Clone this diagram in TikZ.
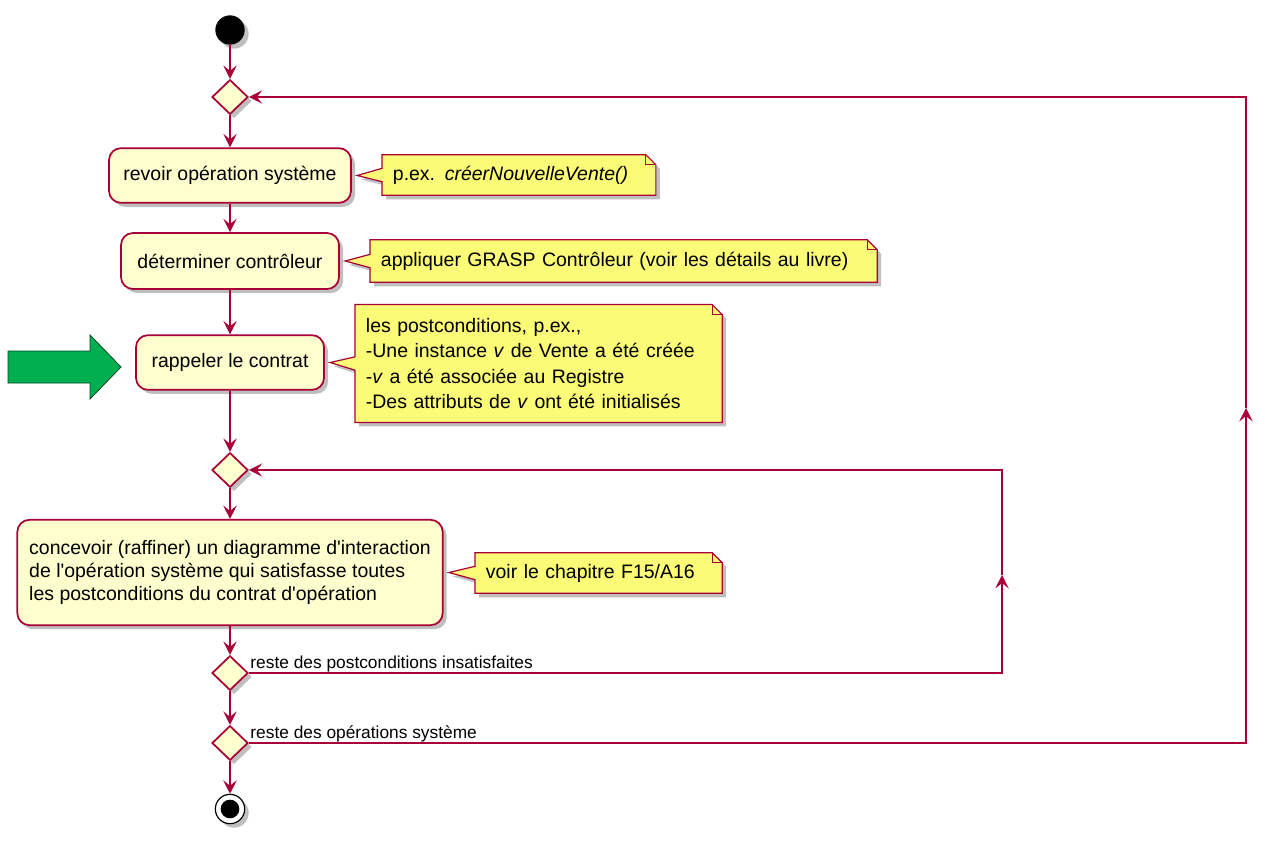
\documentclass[tikz,border=0pt]{standalone}
\usepackage{fontspec}
\setmainfont{Liberation Sans}
\usetikzlibrary{shapes.geometric,arrows.meta,shadows,backgrounds,positioning}

\definecolor{umlred}{HTML}{A80036}
\definecolor{actfill}{HTML}{FEFECE}
\definecolor{notefill}{HTML}{FBFB77}
\definecolor{bigarrowfill}{HTML}{00B050}

\tikzset{
	umlshadow/.style={drop shadow={shadow xshift=3pt,shadow yshift=-3pt,fill=black,opacity=0.25}},
	action/.style={rectangle,rounded corners=9pt,draw=umlred,fill=actfill,line width=1.3pt,umlshadow,
		font=\fontsize{14.6}{17.5}\selectfont,align=center,minimum height=41pt,inner sep=0pt},
	decision/.style={diamond,aspect=1,draw=umlred,fill=actfill,line width=1.3pt,umlshadow,
		minimum width=27pt,minimum height=26pt,inner sep=0pt},
	startdot/.style={circle,fill=black,minimum size=22pt,inner sep=0pt,umlshadow},
	stopring/.style={circle,draw=black,fill=white,line width=0.9pt,minimum size=22pt,inner sep=0pt,umlshadow},
	stopdot/.style={circle,fill=black,minimum size=14pt,inner sep=0pt},
	note/.style={rectangle,anchor=west,inner xsep=8pt,inner ysep=0pt,align=left,
		font=\fontsize{14.6}{19}\selectfont},
	noteline/.style={fill=notefill,draw=umlred,line width=0.9pt,umlshadow},
	flow/.style={draw=umlred,line width=1.4pt,-{Stealth[length=10pt,width=10pt,inset=4pt]}},
	elabel/.style={anchor=base west,inner sep=0pt,font=\fontsize{13}{15}\selectfont},
	bigarrow/.style={fill=bigarrowfill,draw=black!60!bigarrowfill,line width=0.6pt}
}

% cadre d'une note : coin replie + pointe vers l'activite
\newcommand{\noteframe}[2]{%
	\begin{scope}[on background layer]
		\draw[noteline] (#1.north west) -- ([xshift=-7.5pt]#1.north east)
			-- ([yshift=-7.5pt]#1.north east) -- (#1.south east) -- (#1.south west)
			-- ([yshift=-5pt]#1.west) -- ([xshift=4pt]#2.east) -- ([yshift=5pt]#1.west) -- cycle;
		\draw[umlred,line width=0.9pt] ([xshift=-7.5pt]#1.north east) |- ([yshift=-7.5pt]#1.north east);
	\end{scope}}

\begin{document}
\begin{tikzpicture}[x=0.75pt,y=-0.75pt]
	\useasboundingbox (0,0) rectangle (1268,840);
	
	% activites
	\node[startdot] (start) at (230,30) {};
	\node[decision] (d1) at (230,97) {};
	\node[action,minimum width=181.5pt] (a1) at (230,175.5) {revoir opération système};
	\node[action,minimum width=163.5pt,minimum height=42pt] (a2) at (230,261) {déterminer contrôleur};
	\node[action,minimum width=141pt] (a3) at (230,362.5) {rappeler le contrat};
	\node[decision] (d2) at (230,470) {};
	\node[action,minimum width=319pt,minimum height=79pt,align=left] (a4) at (230,572.5)
		{concevoir (raffiner) un diagramme d\textquotesingle interaction\\de l\textquotesingle opération système qui satisfasse toutes\\les postconditions du contrat d\textquotesingle opération};
	\node[decision] (d3) at (230,673) {};
	\node[decision] (d4) at (230,743) {};
	\node[stopring] (stop) at (230,809) {};
	\node[stopdot] (stopin) at (stop) {};
	
	% notes
	\node[note,text width=189pt,minimum height=30pt] (n1) at (382,175) {p.ex. \textit{créerNouvelleVente()}};
	\node[note,text width=364pt,minimum height=31.5pt] (n2) at (370,261) {appliquer GRASP Contrôleur (voir les détails au livre)};
	\node[note,text width=259pt,minimum height=88pt] (n3) at (355,363.5)
		{les postconditions, p.ex.,\\-Une instance \textit{v} de Vente a été créée\\-\textit{v} a été associée au Registre\\-Des attributs de \textit{v} ont été initialisés};
	\node[note,text width=169pt,minimum height=30pt] (n4) at (475,573) {voir le chapitre F15/A16};
	\noteframe{n1}{a1}
	\noteframe{n2}{a2}
	\noteframe{n3}{a3}
	\noteframe{n4}{a4}
	
	% fleche verte
	\draw[bigarrow] (8,351) -- (90,351) -- (90,335) -- (121,367) -- (90,399) -- (90,383) -- (8,383) -- cycle;
	
	% flot principal
	\draw[flow] (start) -- (d1);
	\draw[flow] (d1) -- (a1);
	\draw[flow] (a1) -- (a2);
	\draw[flow] (a2) -- (a3);
	\draw[flow] (a3) -- (d2);
	\draw[flow] (d2) -- (a4);
	\draw[flow] (a4) -- (d3);
	\draw[flow] (d3) -- (d4);
	\draw[flow] (d4) -- (stop);
	
	% boucles
	\coordinate (ia) at (1002,673);
	\coordinate (ib) at (1002,575);
	\coordinate (ic) at (1002,470);
	\draw[flow] (d3.east) -- (ia) -- (ib);
	\draw[flow] (ib) -- (ic) -- (d2.east);
	\coordinate (oa) at (1246,743);
	\coordinate (ob) at (1246,408);
	\coordinate (oc) at (1246,97);
	\draw[flow] (d4.east) -- (oa) -- (ob);
	\draw[flow] (ob) -- (oc) -- (d1.east);
	
	\node[elabel] (l3) at ([xshift=1pt,yshift=3.5pt]d3.east) {reste des postconditions insatisfaites};
	\node[elabel] (l4) at ([xshift=1pt,yshift=3.5pt]d4.east) {reste des opérations système};
	
\end{tikzpicture}
\end{document}
